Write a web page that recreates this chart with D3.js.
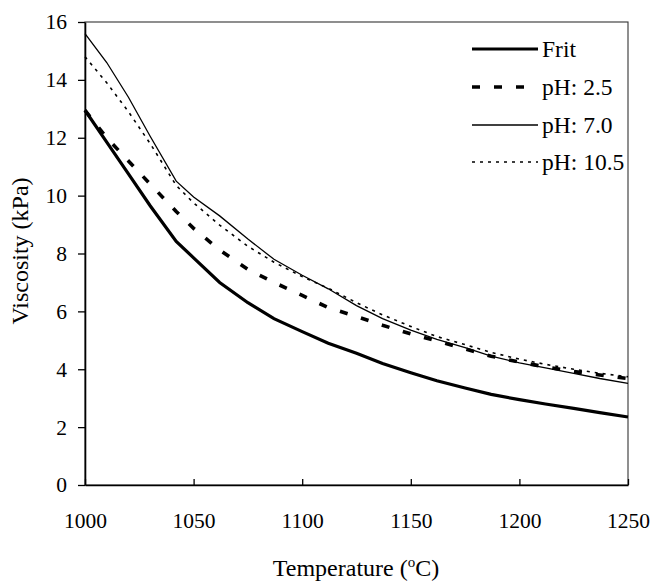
<!DOCTYPE html>
<html>
<head>
<meta charset="utf-8">
<script src="https://cdn.jsdelivr.net/npm/d3@7"></script>
<style>
  body { margin: 0; background: #fff; }
  text { font-family: "Liberation Serif", "Times New Roman", serif; fill: #000; }
</style>
</head>
<body>
<div id="chart"></div>
<script>
// temperatures (C) where curves were sampled
var temps = [1000, 1010, 1020, 1030, 1042, 1050, 1062, 1075, 1087, 1100, 1112, 1125, 1137, 1150, 1162, 1175, 1187, 1200, 1212, 1225, 1237, 1250];

// viscosity (kPa) per series
var frit   = [12.95, 11.85, 10.75, 9.65, 8.42, 7.85, 7.0, 6.3, 5.75, 5.3, 4.9, 4.55, 4.2, 3.88, 3.6, 3.35, 3.13, 2.95, 2.8, 2.65, 2.5, 2.35];
var ph25   = [12.95, 12.0, 11.2, 10.4, 9.45, 8.87, 8.12, 7.45, 7.0, 6.55, 6.13, 5.82, 5.52, 5.22, 4.98, 4.7, 4.45, 4.25, 4.08, 3.92, 3.8, 3.68];
var ph70   = [15.6, 14.6, 13.4, 12.05, 10.5, 9.95, 9.3, 8.5, 7.8, 7.25, 6.78, 6.2, 5.75, 5.35, 5.03, 4.75, 4.45, 4.22, 4.05, 3.86, 3.68, 3.51];
var ph105  = [14.8, 13.9, 12.9, 11.8, 10.35, 9.75, 8.98, 8.25, 7.7, 7.2, 6.8, 6.3, 5.88, 5.48, 5.13, 4.85, 4.58, 4.35, 4.17, 4.0, 3.86, 3.74];

var seriesNames = ["Frit", "pH: 2.5", "pH: 7.0", "pH: 10.5"];
var xTicks = [1000, 1050, 1100, 1150, 1200, 1250];
var yTicks = [0, 2, 4, 6, 8, 10, 12, 14, 16];

var W = 653, H = 581;
var margin = { left: 85, right: 628, top: 22, bottom: 485 };

var svg = d3.select("#chart").append("svg")
    .attr("width", W)
    .attr("height", H);

var x = d3.scaleLinear().domain([1000, 1250]).range([margin.left, margin.right]);
var y = d3.scaleLinear().domain([0, 16]).range([margin.bottom, margin.top]);

// plot frame (top / right)
svg.append("rect")
    .attr("x", margin.left).attr("y", margin.top)
    .attr("width", margin.right - margin.left).attr("height", margin.bottom - margin.top)
    .attr("fill", "none")
    .attr("stroke", "#333")
    .attr("stroke-width", 1.1);

// y axis, ticks outward
var yAxis = svg.append("g")
    .attr("transform", "translate(" + margin.left + ",0)")
    .call(d3.axisLeft(y).tickValues(yTicks).tickSize(7).tickPadding(11).tickSizeOuter(0).tickFormat(d3.format("d")));

// x axis, ticks inward
var xAxis = svg.append("g")
    .attr("transform", "translate(0," + margin.bottom + ")")
    .call(d3.axisBottom(x).tickValues(xTicks).tickSize(-6).tickSizeOuter(0).tickPadding(0).tickFormat(d3.format("d")));

xAxis.selectAll("text").attr("dy", null).attr("y", 43);

[yAxis, xAxis].forEach(function (a) {
    a.select(".domain").attr("stroke", "#000").attr("stroke-width", 1.6);
    a.selectAll(".tick line").attr("stroke", "#000").attr("stroke-width", 1.3);
    a.selectAll("text")
        .style("font-family", "'Liberation Serif', serif")
        .style("font-size", "21.5px")
        .attr("fill", "#000");
});

// line styles per series
var styles = [
    { w: 3.2, dash: null },
    { w: 3.6, dash: "8,14" },
    { w: 1.3, dash: null },
    { w: 1.6, dash: "3,5" }
];
var allSeries = [frit, ph25, ph70, ph105];

var line = d3.line()
    .x(function (d) { return x(d[0]); })
    .y(function (d) { return y(d[1]); });

allSeries.forEach(function (vals, i) {
    var pts = temps.map(function (t, j) { return [t, vals[j]]; });
    svg.append("path")
        .datum(pts)
        .attr("d", line)
        .attr("fill", "none")
        .attr("stroke", "#000")
        .attr("stroke-width", styles[i].w)
        .attr("stroke-dasharray", styles[i].dash);
});

// legend
var legY = [49, 87, 125, 162];
seriesNames.forEach(function (name, i) {
    svg.append("line")
        .attr("x1", 472).attr("x2", 538)
        .attr("y1", legY[i]).attr("y2", legY[i])
        .attr("stroke", "#000")
        .attr("stroke-width", styles[i].w)
        .attr("stroke-dasharray", styles[i].dash);
    svg.append("text")
        .attr("x", 542).attr("y", legY[i] + 8)
        .style("font-size", "23.5px")
        .text(name);
});

// axis titles
svg.append("text")
    .attr("x", 356).attr("y", 576)
    .attr("text-anchor", "middle")
    .style("font-size", "24px")
    .html("Temperature (<tspan dy='-9' font-size='15px'>o</tspan><tspan dy='9'>C)</tspan>");

svg.append("text")
    .attr("transform", "translate(28,251) rotate(-90)")
    .attr("text-anchor", "middle")
    .style("font-size", "24px")
    .text("Viscosity (kPa)");
</script>
</body>
</html>
